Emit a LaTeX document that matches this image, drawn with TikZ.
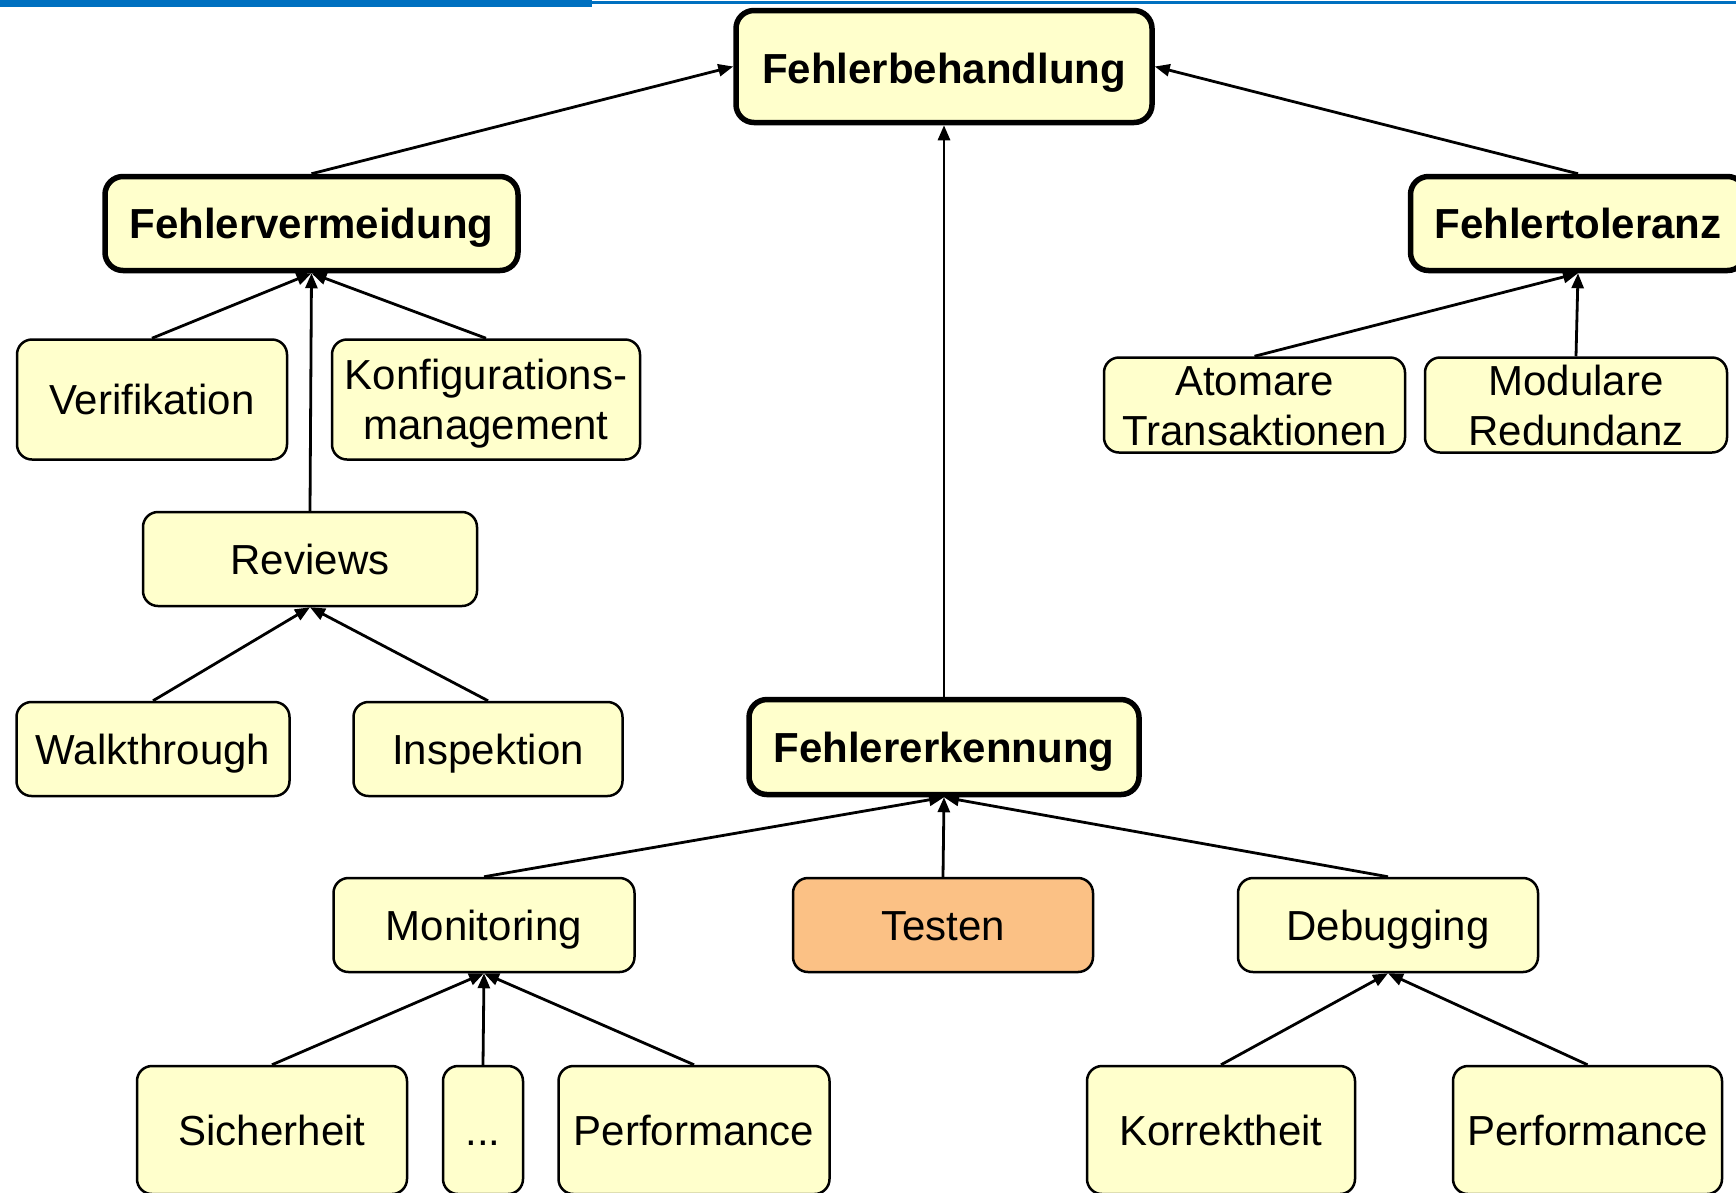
\documentclass[tikz,border=0pt]{standalone}
\usepackage{fontspec}
\setmainfont{Liberation Sans}
\usetikzlibrary{arrows.meta}
\definecolor{boxfill}{RGB}{255,255,204}
\definecolor{testfill}{RGB}{251,193,133}
\definecolor{barblue}{RGB}{0,112,192}
% two centred lines, lowered by #1; the reported size is trimmed so the box keeps its height
\newcommand{\twolines}[3]{\raisebox{-#1}[\dimexpr\height-6pt\relax][\dimexpr\depth-6pt\relax]{\begin{tabular}{@{}c@{}}#2\\#3\end{tabular}}}
\begin{document}
\begin{tikzpicture}[x=1pt,y=-1pt,
  box/.style={draw=black, fill=boxfill, line width=2.5pt, rounded corners=15pt,
    inner sep=0pt, font=\fontsize{42}{50}\selectfont},
  item/.style={box, text height=30pt, text depth=0pt},
  main/.style={item, line width=5.5pt, rounded corners=18pt,
    font=\fontsize{42}{50}\selectfont\bfseries},
  leaf/.style={item, minimum height=128pt},
  link/.style={line width=2.8pt, -{Triangle[length=15pt,width=12pt]}}
]
\useasboundingbox (0,0) rectangle (1736,1192);

% header bar
\fill[barblue] (0,0) rectangle (592,7);
\fill[barblue] (592,1) rectangle (1736,4);

% top level
\node[main, text height=34pt, minimum width=416pt, minimum height=112pt] (fb) at (944,66.5) {Fehlerbehandlung};

% second level
\node[main, minimum width=413pt, minimum height=94pt] (fv) at (311.5,223.5) {Fehlervermeidung};
\node[main, minimum width=335pt, minimum height=94pt] (ft) at (1578,223.5) {Fehlertoleranz};
\node[main, minimum width=390pt, minimum height=95pt] (fe) at (944,747) {Fehlererkennung};

% avoidance branch
\node[item, minimum width=270pt, minimum height=120pt] (ver) at (152,399.5) {Verifikation};
\node[box, minimum width=308pt, minimum height=120pt] (kon) at (486,399.5) {\twolines{5pt}{Konfigurations-}{management}};
\node[item, minimum width=334pt, minimum height=94pt] (rev) at (310,559) {Reviews};
\node[item, minimum width=273pt, minimum height=94pt] (walk) at (153,749) {Walkthrough};
\node[item, minimum width=269pt, minimum height=94pt] (insp) at (488,749) {Inspektion};

% tolerance branch
\node[box, minimum width=301pt, minimum height=95pt] (atom) at (1254.5,405) {\twolines{5pt}{Atomare}{Transaktionen}};
\node[box, minimum width=302pt, minimum height=95pt] (modr) at (1576,405) {\twolines{5pt}{Modulare}{Redundanz}};

% detection branch
\node[item, minimum width=301pt, minimum height=94pt] (mon) at (484,925) {Monitoring};
\node[item, fill=testfill, minimum width=300pt, minimum height=94pt] (test) at (943,925) {Testen};
\node[item, minimum width=300pt, minimum height=94pt] (dbg) at (1388,925) {Debugging};

\node[leaf, minimum width=270pt] (sich) at (272,1130) {Sicherheit};
\node[leaf, minimum width=80pt] (dots) at (483,1130) {...};
\node[leaf, minimum width=271pt] (perfa) at (694,1130) {Performance};
\node[leaf, minimum width=268pt] (korr) at (1221,1130) {Korrektheit};
\node[leaf, minimum width=269pt] (perfb) at (1587.5,1130) {Performance};

% connectors
\draw[link] (fv.north) -- (fb.west);
\draw[link] (ft.north) -- (fb.east);
\draw[link] (fe.north) -- (fb.south);

\draw[link] (ver.north) -- (fv.south);
\draw[link] (kon.north) -- (fv.south);
\draw[link] (rev.north) -- (fv.south);
\draw[link] (walk.north) -- (rev.south);
\draw[link] (insp.north) -- (rev.south);

\draw[link] (atom.north) -- (ft.south);
\draw[link] (modr.north) -- (ft.south);

\draw[link] (mon.north) -- (fe.south);
\draw[link] (test.north) -- (fe.south);
\draw[link] (dbg.north) -- (fe.south);
\draw[link] (sich.north) -- (mon.south);
\draw[link] (dots.north) -- (mon.south);
\draw[link] (perfa.north) -- (mon.south);
\draw[link] (korr.north) -- (dbg.south);
\draw[link] (perfb.north) -- (dbg.south);
\end{tikzpicture}
\end{document}
